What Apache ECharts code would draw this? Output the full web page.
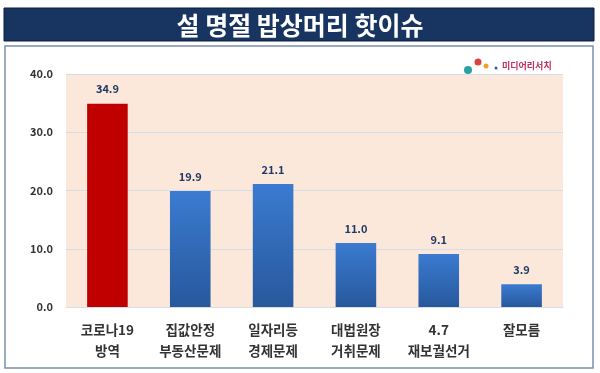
<!DOCTYPE html>
<html><head><meta charset="utf-8">
<script src="https://cdn.jsdelivr.net/npm/echarts@6/dist/echarts.min.js"></script>
<style>html,body{margin:0;padding:0;background:#fff}#c{width:600px;height:373px}</style>
</head><body><div id="c"></div>
<script>
const title = '설 명절 밥상머리 핫이슈';
const categories = ['코로나19\n방역', '집값안정\n부동산문제', '일자리등\n경제문제', '대법원장\n거취문제', '4.7\n재보궐선거', '잘모름'];
const values = [34.9, 19.9, 21.1, 11.0, 9.1, 3.9];
const yTicks = [0, 10, 20, 30, 40];

const chart = echarts.init(document.getElementById('c'));
const font = '"Noto Sans CJK KR","Noto Sans",sans-serif';
chart.setOption({
  animation: false,
  textStyle: {fontFamily: font},
  graphic: [
    {type: 'rect', shape: {x: 4, y: 8, width: 590, height: 33}, style: {fill: '#173560', stroke: '#0d1f3a', lineWidth: 1}},
    {type: 'text', x: 300, y: 25, style: {text: title, fill: '#fff', font: 'bold 25px ' + font, textAlign: 'center', textVerticalAlign: 'middle'}},
    {type: 'rect', shape: {x: 5, y: 46, width: 588, height: 322}, style: {fill: 'none', stroke: '#7d8fb0', lineWidth: 1.5}},
    {type: 'circle', shape: {cx: 478, cy: 62, r: 3.5}, style: {fill: '#d9443f'}},
    {type: 'circle', shape: {cx: 486, cy: 66, r: 2.5}, style: {fill: '#f0a030'}},
    {type: 'circle', shape: {cx: 468, cy: 70, r: 4}, style: {fill: '#2aa0a0'}},
    {type: 'circle', shape: {cx: 496, cy: 68, r: 1.5}, style: {fill: '#2a5aa0'}},
    {type: 'text', x: 502, y: 66, style: {text: '미디어리서치', fill: '#c03060', font: 'bold 9px ' + font, textVerticalAlign: 'middle'}}
  ],
  grid: {left: 66, right: 37, top: 74, bottom: 66, backgroundColor: '#fce8da', show: true, borderWidth: 0},
  xAxis: {
    type: 'category', data: categories,
    axisLine: {show: true, lineStyle: {color: '#d8dde6'}}, axisTick: {show: false},
    axisLabel: {color: '#333', fontSize: 13.5, fontWeight: 'bold', lineHeight: 21, margin: 12, interval: 0}
  },
  yAxis: {
    type: 'value', min: 0, max: 40, interval: 10,
    axisLine: {show: false}, axisTick: {show: false},
    splitLine: {lineStyle: {color: '#d4dde8', width: 1}},
    axisLabel: {color: '#333', fontSize: 11, fontWeight: 'bold', margin: 13, formatter: v => yTicks.includes(v) ? v.toFixed(1) : ''}
  },
  series: [{
    type: 'bar', barWidth: '49%',
    data: values.map((v, i) => ({
      value: v,
      itemStyle: i === 0 ? {color: '#c00000'} : {color: new echarts.graphic.LinearGradient(0, 0, 0, 1, [{offset: 0, color: '#3b7bd0'}, {offset: 1, color: '#27589c'}])}
    })),
    label: {show: true, position: 'top', distance: 9, color: '#1f3864', fontSize: 11, fontWeight: 'bold', formatter: p => p.value.toFixed(1)}
  }]
});
</script></body></html>
